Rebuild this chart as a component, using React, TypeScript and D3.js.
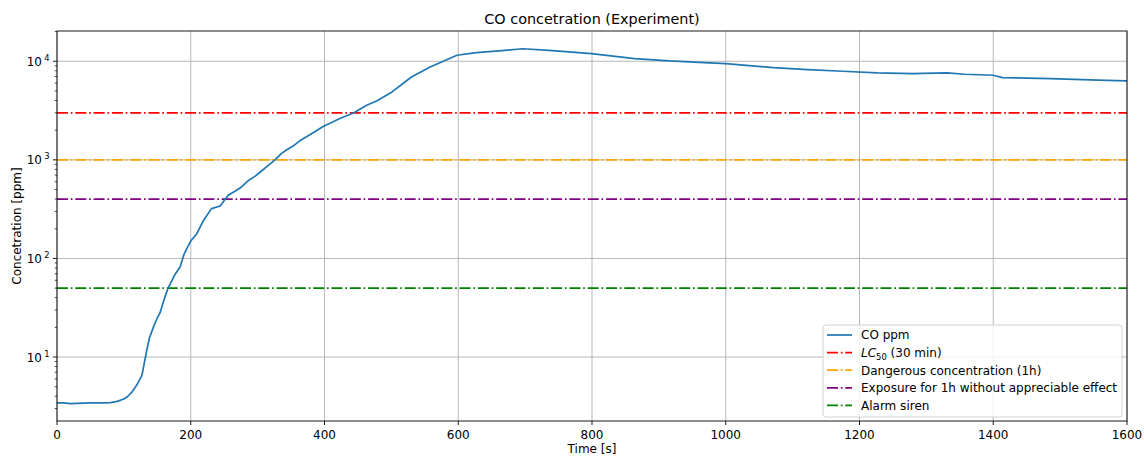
import React from "react";
import * as d3 from "d3";

const times = [0, 10, 20, 30, 40, 50, 60, 70, 80, 90, 100, 106, 112, 120, 127, 131, 134, 138, 144, 150, 154, 160, 166, 172, 176, 184, 190, 194, 200, 209, 219, 231, 244, 256, 266, 276, 286, 296, 304, 315, 326, 335, 343, 353, 363, 378, 398, 423, 444, 463, 478, 501, 530, 558, 581, 598, 627, 661, 696, 736, 799, 812, 864, 916, 968, 1000, 1071, 1123, 1175, 1227, 1279, 1331, 1357, 1400, 1414, 1486, 1569, 1600];
const coPpm = [3.42, 3.42, 3.37, 3.38, 3.4, 3.42, 3.42, 3.43, 3.45, 3.55, 3.75, 4.0, 4.4, 5.3, 6.5, 9.0, 11.5, 15.5, 20, 25, 28, 38, 50, 60, 68, 82, 110, 126, 150, 178, 243, 320, 340, 437, 480, 531, 617, 680, 753, 870, 1000, 1150, 1260, 1380, 1560, 1800, 2180, 2630, 3000, 3580, 3950, 4890, 6930, 8750, 10240, 11500, 12250, 12730, 13400, 12900, 11970, 11700, 10650, 10070, 9700, 9480, 8630, 8240, 7920, 7610, 7500, 7610, 7380, 7210, 6830, 6680, 6410, 6320];

const thresholdNames = ["LC50", "Dangerous concentration (1h)", "Exposure for 1h without appreciable effect", "Alarm siren"];
const thresholdValues = [3000, 1000, 400, 50];
const thresholdColors = ["red", "orange", "purple", "green"];

const xTicks = [0, 200, 400, 600, 800, 1000, 1200, 1400, 1600];
const yTickExps = [1, 2, 3, 4];

const W = 1144, H = 457;
const L = 57, R = 1127, T = 31, B = 421;
const FS = 12;
const FONT = "DejaVu Sans, sans-serif";

export default function App() {
  const x = d3.scaleLinear().domain([0, 1600]).range([L, R]);
  const y = d3.scaleLog().domain([Math.pow(10, 0.351), Math.pow(10, 4.307)]).range([B, T]);
  const line = d3.line<number>().x((_, i) => x(times[i])).y((d) => y(d));
  const dash = "11,2.8,1.7,2.8";

  const minor: number[] = [];
  for (let e = 0; e <= 4; e++) for (let m = 2; m <= 9; m++) {
    const v = m * Math.pow(10, e);
    if (v >= y.domain()[0] && v <= y.domain()[1]) minor.push(v);
  }

  const legX = 823, legY = 325, legW = 299, legH = 92;
  const rowY = (i: number) => legY + 10 + i * 17.6;
  const legendItems = [
    { color: "#1f77b4", dashed: false, label: "CO ppm" },
    ...thresholdNames.map((n, i) => ({ color: thresholdColors[i], dashed: true, label: n })),
  ];

  return (
    <svg width={W} height={H} style={{ position: "absolute", left: 0, top: 0 }} fontFamily={FONT}>
      <rect x={0} y={0} width={W} height={H} fill="white" />
      {xTicks.map((t) => (
        <line key={"gx" + t} x1={x(t)} x2={x(t)} y1={T} y2={B} stroke="#b0b0b0" strokeWidth={0.9} />
      ))}
      {yTickExps.map((e) => (
        <line key={"gy" + e} x1={L} x2={R} y1={y(Math.pow(10, e))} y2={y(Math.pow(10, e))} stroke="#b0b0b0" strokeWidth={0.9} />
      ))}
      {thresholdValues.map((v, i) => (
        <line key={"th" + i} x1={L} x2={R} y1={y(v)} y2={y(v)} stroke={thresholdColors[i]} strokeWidth={1.7} strokeDasharray={dash} />
      ))}
      <path d={line(coPpm) || ""} fill="none" stroke="#1f77b4" strokeWidth={1.7} strokeLinejoin="round" />
      <rect x={L} y={T} width={R - L} height={B - T} fill="none" stroke="black" strokeWidth={0.9} />
      {xTicks.map((t) => (
        <g key={"xt" + t}>
          <line x1={x(t)} x2={x(t)} y1={B} y2={B + 4} stroke="black" strokeWidth={0.9} />
          <text x={x(t)} y={B + 18} textAnchor="middle" fontSize={FS} fill="black">{t}</text>
        </g>
      ))}
      {yTickExps.map((e) => (
        <g key={"yt" + e}>
          <line x1={L - 4} x2={L} y1={y(Math.pow(10, e))} y2={y(Math.pow(10, e))} stroke="black" strokeWidth={0.9} />
          <text x={L - 15} y={y(Math.pow(10, e)) + 4.5} textAnchor="end" fontSize={FS} fill="black">10</text>
          <text x={L - 7.5} y={y(Math.pow(10, e)) - 0.5} textAnchor="end" fontSize={FS * 0.7} fill="black">{e}</text>
        </g>
      ))}
      {minor.map((v) => (
        <line key={"mt" + v} x1={L - 2.3} x2={L} y1={y(v)} y2={y(v)} stroke="black" strokeWidth={0.7} />
      ))}
      <text x={(L + R) / 2} y={23.5} textAnchor="middle" fontSize={14.4} fill="black">CO concetration (Experiment)</text>
      <text x={(L + R) / 2} y={453} textAnchor="middle" fontSize={FS} fill="black">Time [s]</text>
      <text transform={`translate(20.5,${(T + B) / 2}) rotate(-90)`} textAnchor="middle" fontSize={FS} fill="black">Concetration [ppm]</text>
      <rect x={legX} y={legY} width={legW} height={legH} rx={3} fill="white" fillOpacity={0.8} stroke="#cccccc" strokeWidth={0.9} />
      {legendItems.map((it, i) => (
        <g key={"lg" + i}>
          <line x1={827} x2={852} y1={rowY(i)} y2={rowY(i)} stroke={it.color} strokeWidth={1.7} strokeDasharray={it.dashed ? dash : undefined} />
          {it.label === "LC50" ? (
            <text x={861} y={rowY(i) + 4.3} fontSize={FS} fill="black">
              <tspan fontStyle="italic">LC</tspan>
              <tspan fontSize={FS * 0.7} dy={3}>50</tspan>
              <tspan dy={-3}> (30 min)</tspan>
            </text>
          ) : (
            <text x={861} y={rowY(i) + 4.3} fontSize={FS} fill="black">{it.label}</text>
          )}
        </g>
      ))}
    </svg>
  );
}
